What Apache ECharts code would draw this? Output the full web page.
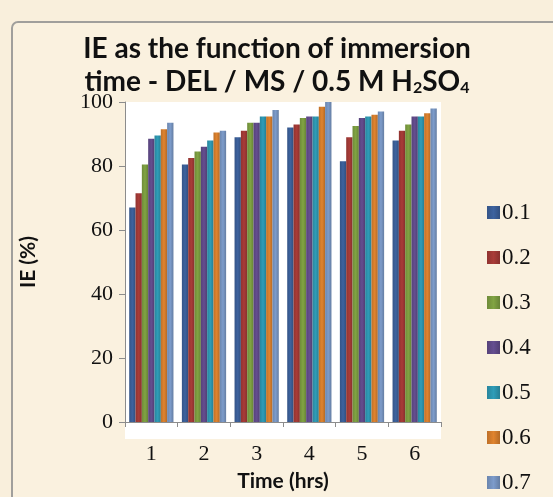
<!DOCTYPE html>
<html>
<head>
<meta charset="utf-8">
<script src="https://cdn.jsdelivr.net/npm/echarts@6/dist/echarts.min.js"></script>
<style>
  html, body { margin: 0; padding: 0; background: #ffffff; }
  #chart { width: 553px; height: 497px; }
</style>
</head>
<body>
<div id="chart"></div>
<script>
// Inhibition efficiency (%) vs immersion time for each inhibitor concentration
const hours = ['1', '2', '3', '4', '5', '6'];
const concentrations = ['0.1', '0.2', '0.3', '0.4', '0.5', '0.6', '0.7'];
const ie01 = [67, 80.5, 89, 92, 81.5, 88];
const ie02 = [71.5, 82.5, 91, 93, 89, 91];
const ie03 = [80.5, 84.5, 93.5, 95, 92.5, 93];
const ie04 = [88.5, 86, 93.5, 95.5, 95, 95.5];
const ie05 = [89.5, 88, 95.5, 95.5, 95.5, 95.5];
const ie06 = [91.5, 90.5, 95.5, 98.5, 96, 96.5];
const ie07 = [93.5, 91, 97.5, 100, 97, 98];
const yTicks = [0, 20, 40, 60, 80, 100];

const seriesValues = [ie01, ie02, ie03, ie04, ie05, ie06, ie07];
const palette = ['#3d639f', '#a93c38', '#81a443', '#654e90', '#2f9db8', '#e0842f', '#7d9ccb'];

function shade(hex, f) {
  const n = parseInt(hex.slice(1), 16);
  let r = (n >> 16) & 255, g = (n >> 8) & 255, b = n & 255;
  const m = c => Math.max(0, Math.min(255, Math.round(f > 0 ? c + (255 - c) * f : c * (1 + f))));
  return 'rgb(' + m(r) + ',' + m(g) + ',' + m(b) + ')';
}

const chart = echarts.init(document.getElementById('chart'), null, { renderer: 'canvas' });

const series = concentrations.map((name, i) => ({
  name: name,
  type: 'bar',
  data: seriesValues[i],
  barGap: '0%',
  barCategoryGap: '16%',
  itemStyle: {
    color: {
      type: 'linear', x: 0, y: 0, x2: 1, y2: 0,
      colorStops: [
        { offset: 0, color: shade(palette[i], -0.15) },
        { offset: 0.5, color: palette[i] },
        { offset: 1, color: shade(palette[i], -0.2) }
      ]
    }
  }
}));

chart.setOption({
  animation: false,
  backgroundColor: '#f9efdc',
  graphic: [
    {
      type: 'rect',
      shape: { x: 12, y: 22, width: 560, height: 500, r: 6 },
      style: { fill: '#faf1df', stroke: '#a09f9c', lineWidth: 2 },
      z: -10
    },
    {
      type: 'rect',
      shape: { x: 125, y: 102, width: 316, height: 337 },
      style: { fill: '#ffffff' },
      z: -5
    }
  ],
  title: {
    text: 'IE as the function of immersion\ntime - DEL / MS / 0.5 M H{sub|2}SO{sub|4}',
    left: 272,
    textAlign: 'center',
    top: 27,
    textStyle: {
      fontFamily: 'Lato',
      fontWeight: 'bold',
      fontSize: 28,
      color: '#111111',
      lineHeight: 33,
      rich: {
        sub: { fontSize: 16, fontFamily: 'Lato', fontWeight: 'bold', color: '#111111', padding: [13, 0, 0, 0] }
      }
    }
  },
  legend: {
    orient: 'vertical',
    left: 482,
    top: 196,
    height: 420,
    itemWidth: 13,
    itemHeight: 13,
    itemGap: 22,
    icon: 'rect',
    textStyle: { fontFamily: 'Liberation Serif', fontSize: 23, color: '#111111', padding: [0, 0, 0, -3] },
    data: concentrations
  },
  grid: { left: 125, right: 112, top: 102, bottom: 58, containLabel: false },
  xAxis: {
    type: 'category',
    data: hours,
    name: 'Time (hrs)',
    nameLocation: 'middle',
    nameGap: 49,
    nameTextStyle: { fontFamily: 'Lato', fontWeight: 'bold', fontSize: 21, color: '#111111' },
    axisLine: { lineStyle: { color: '#8c8c8c', width: 1 } },
    axisTick: { show: true, length: 5, lineStyle: { color: '#8c8c8c' } },
    axisLabel: { fontFamily: 'Liberation Serif', fontSize: 22, color: '#111111', margin: 21 }
  },
  yAxis: {
    type: 'value',
    min: 0,
    max: 100,
    interval: 20,
    name: 'IE (%)',
    nameLocation: 'middle',
    nameGap: 86,
    nameRotate: 90,
    nameTextStyle: { fontFamily: 'Lato', fontWeight: 'bold', fontSize: 21, color: '#111111' },
    axisLine: { show: true, lineStyle: { color: '#8c8c8c', width: 1 } },
    axisTick: { show: true, length: 6, lineStyle: { color: '#8c8c8c' } },
    splitLine: { show: false },
    axisLabel: {
      fontFamily: 'Liberation Serif', fontSize: 22, color: '#111111', margin: 12,
      formatter: v => (yTicks.indexOf(v) >= 0 ? String(v) : '')
    }
  },
  series: series
});
</script>
</body>
</html>
